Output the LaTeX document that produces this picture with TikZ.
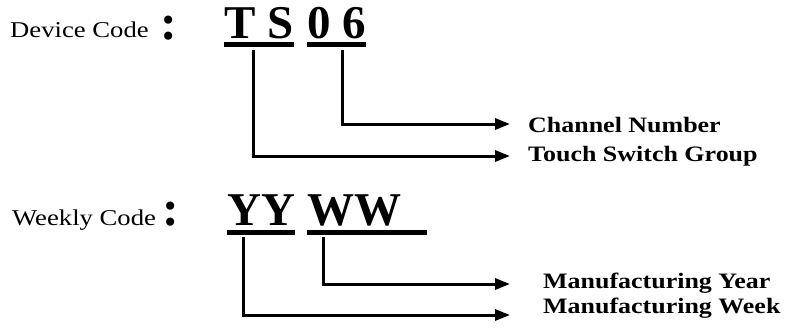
\documentclass[tikz,border=0pt]{standalone}
\usepackage{fontspec}
\setmainfont{Liberation Serif}
\newfontfamily\labelfont{Liberation Serif}[FakeStretch=1.18]
\usetikzlibrary{arrows.meta}

\tikzset{
  txt/.style={inner sep=0pt, anchor=base west},
  namelabel/.style={txt, font=\labelfont\fontsize{22.6}{26}\selectfont},
  colonmark/.style={txt, font=\bfseries\fontsize{50}{54}\selectfont},
  bigcode/.style={txt, font=\bfseries\fontsize{47}{52}\selectfont},
  meaning/.style={txt, font=\labelfont\bfseries\fontsize{22}{26}\selectfont},
  uline/.style={line width=5pt},
  lead/.style={line width=3pt, -{Triangle[length=15pt,width=11pt]}}
}

\begin{document}
\begin{tikzpicture}[x=1pt, y=-1pt]
  \useasboundingbox (0,0) rectangle (793,333);

  \node[namelabel] (devlabel) at (10,37) {Device Code};
  \node[colonmark] (devcolon) at (160,39) {:};
  \node[bigcode] (ts) at (224,38) {T S};
  \node[bigcode] (zs) at (307,38) {0 6};
  \draw[uline] ([yshift=-6.5pt]ts.base west) -- ([yshift=-6.5pt]ts.base east);
  \draw[uline] ([yshift=-6.5pt]zs.base west) -- ([yshift=-6.5pt]zs.base east);

  \node[meaning] (chan) at (528,132) {Channel Number};
  \node[meaning] (touch) at (528,161) {Touch Switch Group};
  \coordinate (tsfoot) at (253.5,50);
  \coordinate (zsfoot) at (342,50);
  \coordinate (chantip) at (510,124);
  \coordinate (touchtip) at (510,156);
  \draw[lead] (zsfoot) |- (chantip);
  \draw[lead] (tsfoot) |- (touchtip);

  \node[namelabel] (weeklabel) at (12,225) {Weekly Code};
  \node[colonmark] (weekcolon) at (162,225) {:};
  \node[bigcode] (yy) at (227,225) {YY};
  \node[bigcode] (ww) at (307,225) {WW};
  \draw[uline] ([yshift=-7pt]yy.base west) -- ([yshift=-7pt]yy.base east);
  \draw[uline] ([yshift=-7pt]ww.base west) -- ++(120,0);

  \node[meaning] (mfyear) at (543,288) {Manufacturing Year};
  \node[meaning] (mfweek) at (543,313) {Manufacturing Week};
  \coordinate (yyfoot) at (243,237);
  \coordinate (wwfoot) at (323,237);
  \coordinate (yeartip) at (510,284);
  \coordinate (weektip) at (510,315);
  \draw[lead] (wwfoot) |- (yeartip);
  \draw[lead] (yyfoot) |- (weektip);
\end{tikzpicture}
\end{document}
